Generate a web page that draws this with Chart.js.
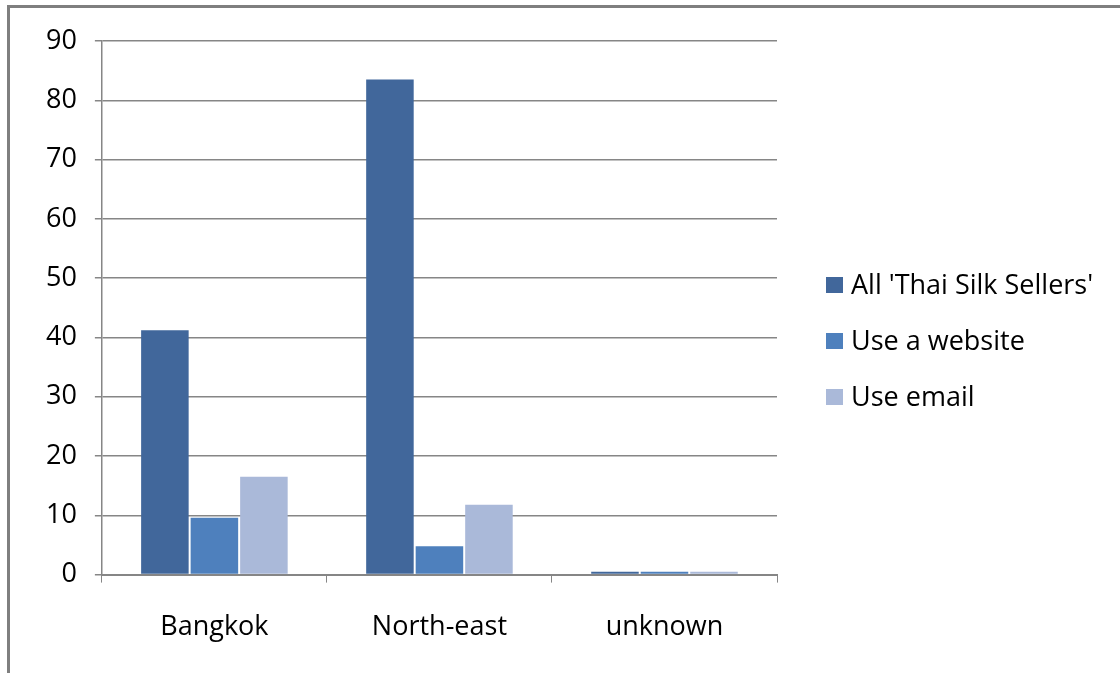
<!DOCTYPE html>
<html>
<head>
<meta charset="utf-8">
<script src="https://cdn.jsdelivr.net/npm/chart.js@4.4.0/dist/chart.umd.min.js"></script>
<style>
html,body{margin:0;padding:0;background:#fff;}
#wrap{position:absolute;left:0;top:0;width:1120px;height:673px;}
#frame{position:absolute;left:7px;top:5px;width:1130px;height:680px;border-left:3px solid #7f7f7f;border-top:3px solid #7f7f7f;box-sizing:border-box;pointer-events:none;}
canvas{position:absolute;left:0;top:0;}
#legend{position:absolute;left:826px;top:0;font-family:'Open Sans','DejaVu Sans',sans-serif;font-size:27px;color:#000;}
.item{position:absolute;left:0;height:30px;white-space:nowrap;}
.box{position:absolute;left:0;top:7px;width:17px;height:16px;}
.lbl{position:absolute;left:25px;top:-4px;line-height:36px;}
</style>
</head>
<body>
<div id="wrap"><canvas id="c" width="1120" height="673"></canvas></div>
<div id="legend"></div>
<div id="frame"></div>
<script>
const categories = ['Bangkok', 'North-east', 'unknown'];
const allSellers = [41.2, 83.5, 0.5];
const useWebsite = [9.6, 4.8, 0.5];
const useEmail = [16.5, 11.8, 0.5];
const yTicks = [0, 10, 20, 30, 40, 50, 60, 70, 80, 90];

const font = {family: "'Open Sans', 'DejaVu Sans', sans-serif", size: 27};

const chart = new Chart(document.getElementById('c'), {
  type: 'bar',
  data: {
    labels: categories,
    datasets: [
      {label: "All 'Thai Silk Sellers'", data: allSellers, backgroundColor: '#41679B'},
      {label: 'Use a website', data: useWebsite, backgroundColor: '#4E80BD'},
      {label: 'Use email', data: useEmail, backgroundColor: '#AAB9D9'}
    ]
  },
  options: {
    responsive: false,
    animation: false,
    devicePixelRatio: 1,
    layout: {padding: {left: 28, right: 343, top: 41, bottom: 0}},
    datasets: {bar: {categoryPercentage: 0.66, barPercentage: 0.96}},
    plugins: {
      tooltip: {enabled: false},
      legend: {display: false}
    },
    scales: {
      x: {
        grid: {display: true, drawOnChartArea: false, drawTicks: true, tickLength: 8, color: '#868686', offset: true},
        border: {display: true, color: '#868686', width: 2},
        ticks: {font: font, color: '#000', padding: 29}
      },
      y: {
        min: 0, max: 90,
        afterBuildTicks: (axis) => { axis.ticks = yTicks.map(v => ({value: v})); },
        grid: {color: '#868686', lineWidth: 1.5, tickLength: 7},
        border: {display: true, color: '#868686', width: 1.5},
        ticks: {font: font, color: '#000', padding: 18}
      }
    }
  }
});

// HTML legend built from the chart's datasets
const legendEl = document.getElementById('legend');
const rowCenters = [285, 341, 397];
chart.data.datasets.forEach((ds, i) => {
  const item = document.createElement('div');
  item.className = 'item';
  item.style.top = (rowCenters[i] - 15) + 'px';
  const box = document.createElement('div');
  box.className = 'box';
  box.style.background = ds.backgroundColor;
  const lbl = document.createElement('div');
  lbl.className = 'lbl';
  lbl.textContent = ds.label;
  item.appendChild(box);
  item.appendChild(lbl);
  legendEl.appendChild(item);
});
</script>
</body>
</html>
